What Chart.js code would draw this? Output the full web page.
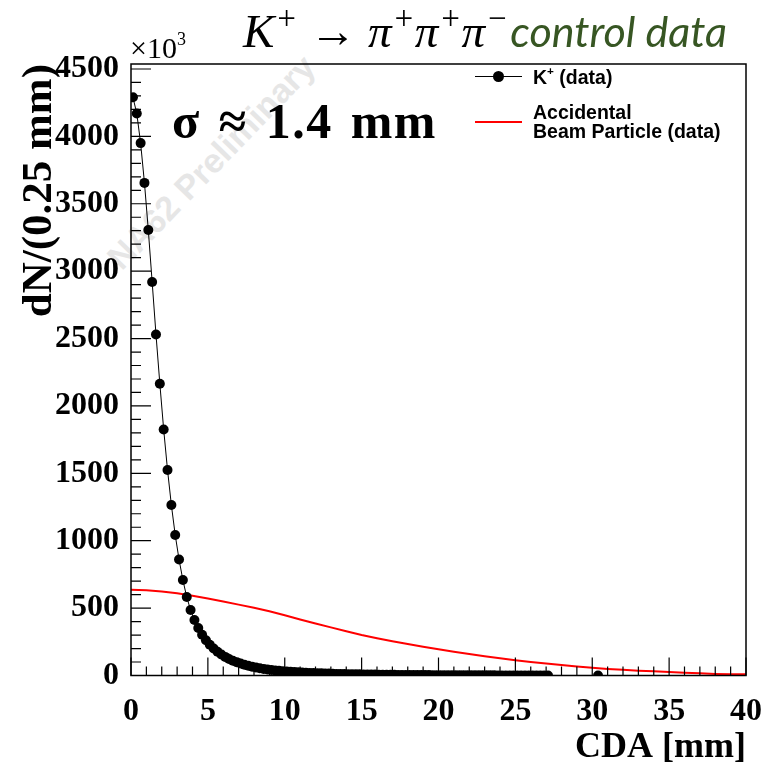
<!DOCTYPE html>
<html>
<head>
<meta charset="utf-8">
<script src="https://cdn.jsdelivr.net/npm/chart.js@4.4.0/dist/chart.umd.min.js"></script>
<style>
  body { margin: 0; background: #fff; }
  #wrap { position: relative; width: 775px; height: 771px; overflow: hidden; }
  #myChart { position: absolute; left: 0; top: 0; z-index: 1; }
  .txt { position: absolute; white-space: nowrap; z-index: 2; line-height: 1; }
  .sup { font-size: 0.6em; position: relative; top: -0.75em; }
  #title { left: 243px; top: 8px; }
  #title .math { font-family: "Liberation Serif", serif; font-style: italic; font-size: 47px; }
  #title .math .sup { font-size: 0.7em; top: -0.55em; margin-left: 1px; }
  #title .green { font-family: "Lato", sans-serif; font-style: italic; color: #375623; font-size: 43px; margin-left: 2px; }
  #sigma { left: 172px; top: 96px; font-family: "Liberation Serif", serif; font-weight: bold; font-size: 50px;
           letter-spacing: 1.5px; word-spacing: 4px; }
  #mult { left: 130px; top: 33px; font-family: "Liberation Serif", serif; font-size: 30px; }
  #wm { left: 211px; top: 162px; z-index: 0; transform: translate(-50%, -50%) rotate(-46deg);
        font-family: "Liberation Sans", sans-serif; font-weight: bold; font-size: 34px; color: #e6e6e6; }
  .leg { font-family: "Liberation Sans", sans-serif; font-weight: bold; font-size: 19.5px; }
  .legline { position: absolute; z-index: 2; }
</style>
</head>
<body>
<div id="wrap">
  <div class="txt" id="wm">NA62 Preliminary</div>
  <canvas id="myChart" width="775" height="771"></canvas>
  <div class="txt" id="title"><span class="math">K<span class="sup">+</span> → π<span class="sup">+</span>π<span class="sup">+</span>π<span class="sup">−</span></span><span class="green">control data</span></div>
  <div class="txt" id="sigma">σ ≈ 1.4 mm</div>
  <div class="txt" id="mult">×10<span class="sup">3</span></div>

  <div class="legline" style="left:475px;top:76px;width:47px;height:1px;background:#000"></div>
  <div class="legline" style="left:493px;top:71px;width:11px;height:11px;border-radius:50%;background:#000"></div>
  <div class="txt leg" style="left:533px;top:68px">K<span class="sup">+</span> (data)</div>
  <div class="legline" style="left:475px;top:121px;width:47px;height:2px;background:#ff0000"></div>
  <div class="txt leg" style="left:533px;top:103px">Accidental</div>
  <div class="txt leg" style="left:533px;top:122px">Beam Particle (data)</div>
</div>
<script>
// K+ data, 0.25 mm bins starting at CDA = 0 (values in units of 10^3)
const kaonBinWidth = 0.25;
const kaonCounts = [
  4290, 4170, 3950, 3655, 3305, 2920, 2530, 2165, 1825, 1525,
  1265, 1043, 860, 708, 582, 486, 412, 352, 302, 262,
  228, 200, 176, 156, 138, 123, 110, 99, 89, 80,
  72, 65, 59, 54, 49, 45, 41, 38, 35, 32,
  30, 28, 26, 24, 22, 21, 19, 18, 17, 16,
  15, 14, 13, 12, 11, 10.5, 10, 9.5, 9, 8.5,
  8, 7.5, 7, 6.6, 6.2, 5.8, 5.5, 5.2, 4.9, 4.6,
  4.3, 4.0, 3.8, 3.6, 3.4, 3.2, 3.0, 2.8, 2.7, 2.5,
  2.4, 2.3, 2.2, 2.1, 2.0, 1.9, 1.8, 1.7, 1.6, 1.5,
  1.4, 1.3, 1.2, 1.1, 1.0, 0.9, 0.9, 0.8, 0.8, 0.7,
  0.7, 0.6, 0.6, 0.5, 0.5, 0.4, 0.4, 0.3, 0.3
];
// lone entry out in the tail
const kaonTailCda = [30.375];
const kaonTailCounts = [0.2];

// accidental beam particle shape
const accidentalCda = [
  0, 1, 2, 3, 4, 5, 6, 7, 8, 9, 10, 11, 12, 13, 14, 15, 16, 17, 18, 19, 20,
  21, 22, 23, 24, 25, 26, 27, 28, 29, 30, 31, 32, 33, 34, 35, 36, 37, 38, 39, 40
];
const accidentalCounts = [
  636, 633, 624, 610, 592, 571, 549, 526, 502, 476, 447,
  416, 386, 357, 328, 300, 276, 254, 233, 213, 194,
  176, 159, 143, 128, 114, 101, 89, 78, 67, 57,
  49, 42, 36, 31, 26, 21, 16, 12, 10, 10
];

const yTicks = [0, 500, 1000, 1500, 2000, 2500, 3000, 3500, 4000, 4500];
const xTicks = [0, 5, 10, 15, 20, 25, 30, 35, 40];

const kaonPoints = kaonCounts.map((v, i) => ({ x: (i + 0.5) * kaonBinWidth, y: v }));
kaonTailCda.forEach((c, i) => kaonPoints.push({ x: c, y: kaonTailCounts[i] }));
const accPoints = accidentalCda.map((c, i) => ({ x: c, y: accidentalCounts[i] }));

// ROOT style frame with inside tick marks
const rootFrame = {
  id: 'rootFrame',
  afterDatasetsDraw(chart) {
    const { ctx, chartArea: a, scales: { x, y } } = chart;
    ctx.save();
    ctx.strokeStyle = '#000';
    ctx.lineWidth = 1.5;
    ctx.strokeRect(a.left, a.top, a.right - a.left, a.bottom - a.top);
    ctx.lineWidth = 1.2;
    ctx.beginPath();
    for (let v = 0; v <= 4500; v += 100) {
      const py = y.getPixelForValue(v);
      const len = v % 500 === 0 ? 20 : 10;
      ctx.moveTo(a.left, py);
      ctx.lineTo(a.left + len, py);
    }
    for (let v = 0; v <= 40; v += 1) {
      const px = x.getPixelForValue(v);
      const len = v % 5 === 0 ? 18 : 9;
      ctx.moveTo(px, a.bottom);
      ctx.lineTo(px, a.bottom - len);
    }
    ctx.stroke();
    ctx.restore();
  }
};

const serifBold = { family: 'Liberation Serif', weight: 'bold', size: 32 };

new Chart(document.getElementById('myChart'), {
  type: 'line',
  data: {
    datasets: [
      {
        label: 'K+ (data)',
        data: kaonPoints,
        borderColor: '#000',
        backgroundColor: '#000',
        borderWidth: 1,
        pointRadius: 5,
        pointBorderWidth: 0,
        tension: 0,
        order: 1
      },
      {
        label: 'Accidental Beam Particle (data)',
        data: accPoints,
        borderColor: '#ff0000',
        borderWidth: 2,
        pointRadius: 0,
        tension: 0,
        order: 2
      }
    ]
  },
  options: {
    responsive: false,
    animation: false,
    devicePixelRatio: 1,
    layout: { padding: { top: 64, right: 29, left: 0, bottom: 0 } },
    plugins: { legend: { display: false }, tooltip: { enabled: false } },
    scales: {
      x: {
        type: 'linear',
        min: 0,
        max: 40,
        grid: { display: false, drawTicks: false },
        border: { display: false },
        afterBuildTicks: (s) => { s.ticks = xTicks.map(v => ({ value: v })); },
        afterFit: (s) => { s.height = 95.5; s.paddingLeft = 0; s.paddingRight = 0; },
        ticks: { color: '#000', font: serifBold, padding: 17, maxRotation: 0, callback: (v) => String(v) },
        title: {
          display: true, text: 'CDA [mm]', align: 'end', color: '#000',
          font: { family: 'Liberation Serif', weight: 'bold', size: 36, lineHeight: 1 },
          padding: { top: 0, bottom: 5 }
        }
      },
      y: {
        min: 0,
        max: 4537,
        grid: { display: false, drawTicks: false },
        border: { display: false },
        afterBuildTicks: (s) => { s.ticks = yTicks.map(v => ({ value: v })); },
        afterFit: (s) => { s.width = 131; s.paddingTop = 0; s.paddingBottom = 0; },
        ticks: { color: '#000', font: serifBold, padding: 12, callback: (v) => String(v) },
        title: {
          display: true, text: 'dN/(0.25 mm)', align: 'end', color: '#000',
          font: { family: 'Liberation Serif', weight: 'bold', size: 43, lineHeight: 1 },
          padding: { top: 18, bottom: 0 }
        }
      }
    }
  },
  plugins: [rootFrame]
});
</script>
</body>
</html>
